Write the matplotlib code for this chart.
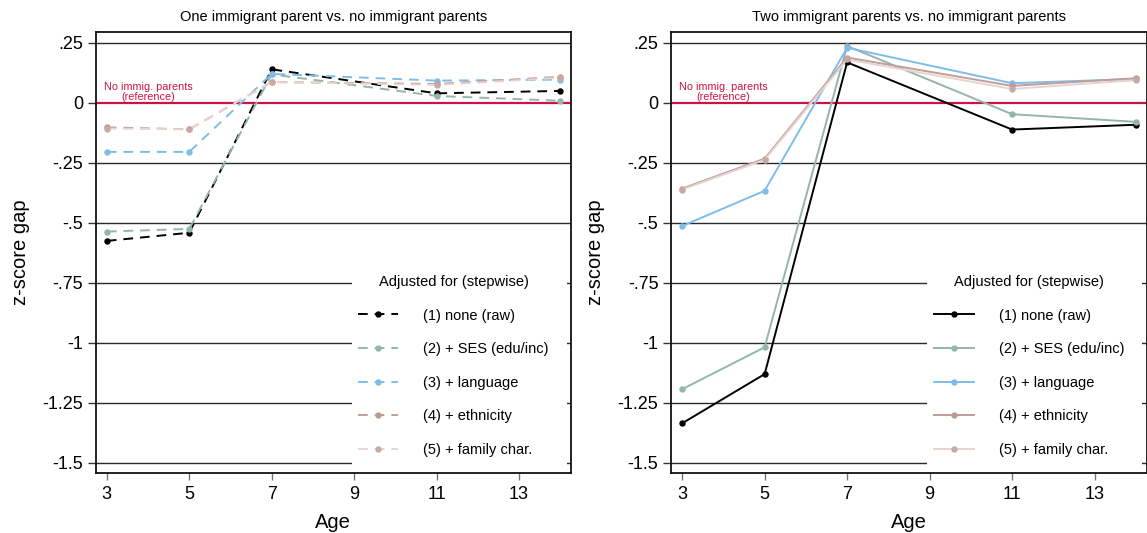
import matplotlib
matplotlib.use("Agg")
import matplotlib.pyplot as plt
from matplotlib.patches import Rectangle

plt.rcParams['font.family'] = ['Liberation Sans', 'DejaVu Sans']
plt.rcParams['lines.scale_dashes'] = False

ages = [3, 5, 7, 11, 14]

series_labels = ["(1) none (raw)", "(2) + SES (edu/inc)", "(3) + language",
                 "(4) + ethnicity", "(5) + family char."]

# One immigrant parent vs. none
one_raw = [-0.576, -0.542, 0.139, 0.039, 0.049]
one_ses = [-0.537, -0.526, 0.118, 0.028, 0.008]
one_lang = [-0.205, -0.205, 0.120, 0.092, 0.096]
one_eth = [-0.103, -0.111, 0.086, 0.078, 0.108]
one_fam = [-0.108, -0.111, 0.086, 0.074, 0.104]

# Two immigrant parents vs. none
two_raw = [-1.336, -1.131, 0.168, -0.112, -0.092]
two_ses = [-1.194, -1.019, 0.236, -0.048, -0.080]
two_lang = [-0.514, -0.367, 0.229, 0.081, 0.099]
two_eth = [-0.358, -0.233, 0.188, 0.070, 0.102]
two_fam = [-0.362, -0.238, 0.180, 0.057, 0.094]

ytick_vals = [0.25, 0, -0.25, -0.5, -0.75, -1, -1.25, -1.5]
ytick_labels = [".25", "0", "-.25", "-.5", "-.75", "-1", "-1.25", "-1.5"]
xtick_vals = [3, 5, 7, 9, 11, 13]

titles = ["One immigrant parent vs. no immigrant parents",
          "Two immigrant parents vs. no immigrant parents"]

line_colors = ["#000000", "#93b5aa", "#7fbde8", "#c09e99", "#e6d4d0"]
marker_colors = ["#000000", "#93b5aa", "#7fbde8", "#bb9c96", "#c8aaa4"]
ref_color = "#cc1346"

fig = plt.figure(figsize=(11.47, 5.33), dpi=100)
ax1 = fig.add_axes([0.0834, 0.1135, 0.4144, 0.8265])
ax2 = fig.add_axes([0.585, 0.1135, 0.4146, 0.8265])

panels = [
    (ax1, [one_raw, one_ses, one_lang, one_eth, one_fam], (0, (7, 5))),
    (ax2, [two_raw, two_ses, two_lang, two_eth, two_fam], "-"),
]

for i, (ax, data, ls) in enumerate(panels):
    ax.set_xlim(2.73, 14.26)
    ax.set_ylim(-1.541, 0.2946)
    for y in ytick_vals:
        if y != 0:
            ax.axhline(y, color="#2a2a2a", lw=1.0, zorder=1)
    ax.axhline(0, color=ref_color, lw=1.6, zorder=1.5)
    ax.text(4.0, 0.003, "No immig. parents\n(reference)", color=ref_color,
            fontsize=7.8, ha="center", va="bottom", linespacing=0.95, zorder=2)

    handles = []
    for vals, lab, lc, mc in zip(data, series_labels, line_colors, marker_colors):
        h, = ax.plot(ages, vals, linestyle=ls, color=lc, lw=1.4,
                     marker="o", markersize=3.6, markerfacecolor=mc,
                     markeredgecolor=mc, label=lab, zorder=3)
        handles.append(h)

    ax.add_patch(Rectangle((0.539, 0.015), 0.452, 0.447, transform=ax.transAxes,
                           facecolor="white", edgecolor="none", zorder=4))
    leg = ax.legend(handles=handles, loc="upper left",
                    bbox_to_anchor=(0.525, 0.478), frameon=False,
                    title="Adjusted for (stepwise)", title_fontsize=10.5,
                    fontsize=10.5, handlelength=2.75, handletextpad=1.7,
                    labelspacing=1.34, numpoints=1)
    leg.set_zorder(5)

    ax.set_yticks(ytick_vals)
    ax.set_yticklabels(ytick_labels)
    ax.set_xticks(xtick_vals)
    ax.tick_params(axis="y", length=6, width=1.0, pad=3, labelsize=13,
                   color="#333333")
    ax.tick_params(axis="x", length=5, width=1.0, pad=5, labelsize=13,
                   color="#777777")
    for sp in ax.spines.values():
        sp.set_linewidth(1.3)
        sp.set_color("#111111")
    ax.set_title(titles[i], fontsize=10.5, pad=8)
    ax.set_xlabel("Age", fontsize=14.5, labelpad=7)
    ax.set_ylabel("z-score gap", fontsize=14.5, labelpad=9)

fig.savefig("out.png", dpi=100)
